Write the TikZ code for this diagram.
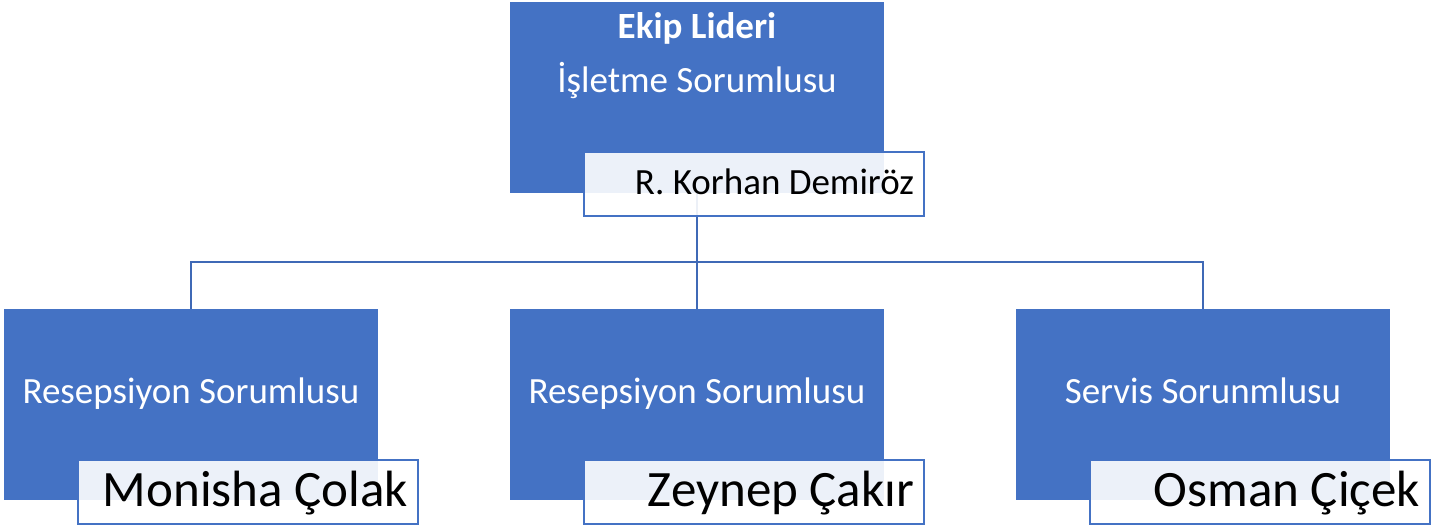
\documentclass[tikz,border=0pt]{standalone}
\usepackage{fontspec}
\setmainfont{Carlito}
\definecolor{ROLEBLUE}{HTML}{4472C4}
\definecolor{LINKBLUE}{HTML}{3F69B6}
\tikzset{
ROLE/.style ={fill=ROLEBLUE, draw=none, minimum width=374pt, minimum height=191pt, inner sep=0pt},
ROLETEXT/.style ={text=white, font=\fontsize{37}{44}\selectfont, anchor=base, inner sep=0pt},
NAMEBOX/.style ={draw=ROLEBLUE, line width=2pt, fill=white, fill opacity=0.9, text opacity=1, minimum height=64pt, inner xsep=10pt, inner ysep=0pt, text width=320pt, align=flush right},
BIGNAME/.style ={NAMEBOX, font=\fontsize{51}{56}\selectfont, text height=36pt, text depth=8pt},
SMALLNAME/.style ={NAMEBOX, font=\fontsize{37}{42}\selectfont, text height=24pt, text depth=2pt},
LINK/.style ={draw=LINKBLUE, line width=2pt},
}
\begin{document}
\begin{tikzpicture}[x=1pt, y=-1pt] %Organisation chart
	\path[fill=white, use as bounding box] (0,0) rectangle (1452,529);
	\node[ROLE] (lead) at (697,97.5) {};
	\node[ROLE] (recA) at (191,404.5) {};
	\node[ROLE] (recB) at (697,404.5) {};
	\node[ROLE] (serv) at (1203,404.5) {};
	\coordinate (bus) at (697,262);
	\draw[LINK] (lead.south) -- (bus);
	\draw[LINK] (recA.north) |- (bus) -| (serv.north);
	\draw[LINK] (bus) -- (recB.north);
	\node[ROLETEXT] (leadT) at (697,39) {\bfseries Ekip Lideri};
	\node[ROLETEXT] (leadS) at (697,93) {İşletme Sorumlusu};
	\node[ROLETEXT] (recAT) at (191,403) {Resepsiyon Sorumlusu};
	\node[ROLETEXT] (recBT) at (697,403) {Resepsiyon Sorumlusu};
	\node[ROLETEXT] (servT) at (1203,403) {Servis Sorunmlusu};
	\node[SMALLNAME] (leadN) at (754,184) {R. Korhan Demiröz};
	\node[BIGNAME] (recAN) at (248,492) {Monisha Çolak};
	\node[BIGNAME] (recBN) at (754,492) {Zeynep Çakır};
	\node[BIGNAME] (servN) at (1260,492) {Osman Çiçek};
\end{tikzpicture}
\end{document}
